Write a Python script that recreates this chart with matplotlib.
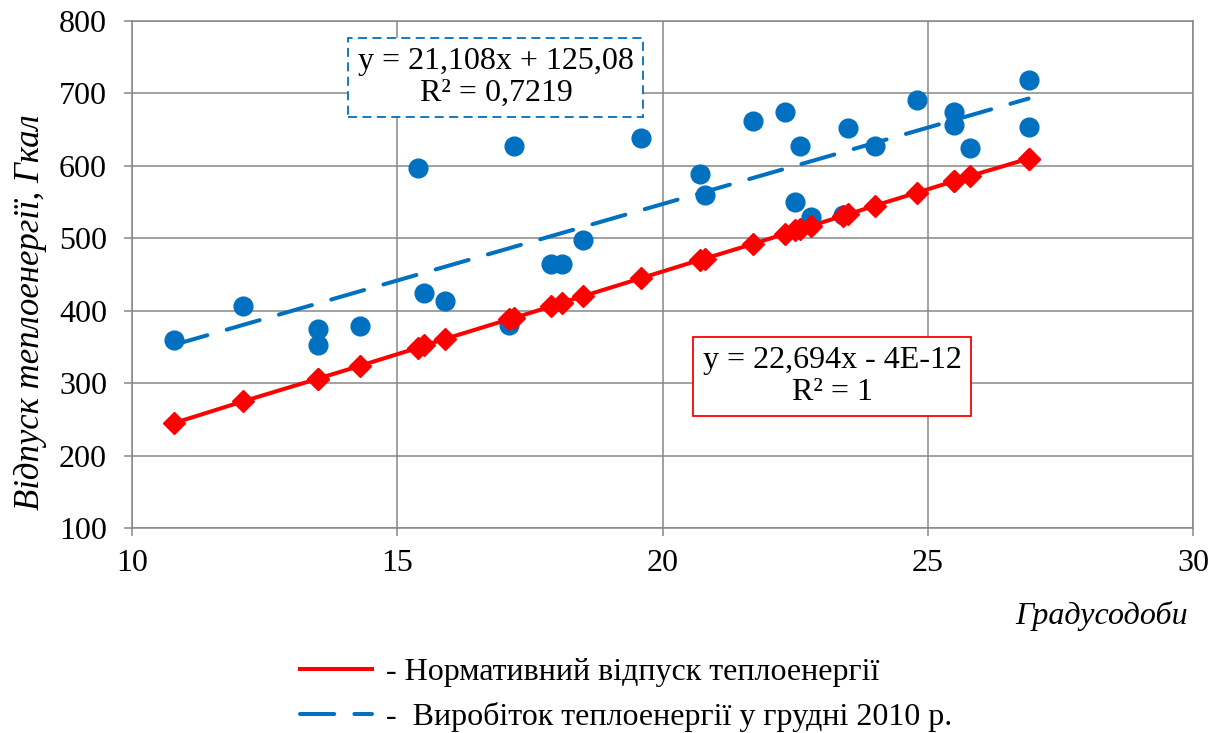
import matplotlib.pyplot as plt
from matplotlib.lines import Line2D
import numpy as np

plt.rcParams['font.family'] = 'Liberation Serif'

# Degree-days of each day and heat output in December 2010
degree_days = [10.8, 12.1, 13.5, 13.5, 14.3, 15.4, 15.5, 15.9, 17.1, 17.2,
               17.9, 18.1, 18.5, 19.6, 20.7, 20.8, 21.7, 22.3, 22.5, 22.6,
               22.8, 23.4, 23.5, 24.0, 24.8, 25.5, 25.5, 25.8, 26.9, 26.9]
actual_output = [360, 407, 375, 353, 379, 597, 425, 413, 380, 628,
                 465, 465, 498, 639, 589, 560, 662, 674, 550, 628,
                 529, 532, 652, 628, 691, 675, 657, 624, 718, 654]
normative_output = [245, 275, 306, 306, 324, 349, 352, 361, 388, 390,
                    406, 411, 420, 445, 470, 472, 492, 506, 511, 513,
                    517, 531, 533, 545, 563, 579, 579, 586, 610, 610]

# Linear trend of actual output
trend_slope = 21.108
trend_intercept = 125.08
trend_r2 = 0.7219
norm_slope = 22.694

x_ticks = [10, 15, 20, 25, 30]
y_ticks = [100, 200, 300, 400, 500, 600, 700, 800]

BLUE = '#0070C0'
RED = '#FF0000'
GRID = '#878787'
FS = 23

fig = plt.figure(figsize=(12.19, 7.33), dpi=100)
ax = fig.add_axes([0.1083, 0.2797, 0.8704, 0.6917])

# Scatter of actual output
ax.plot(degree_days, actual_output, 'o', color=BLUE, ms=13.5, mec=BLUE, zorder=3)

# Trend line
xt = np.array([min(degree_days), max(degree_days)])
ax.plot(xt, trend_slope * xt + trend_intercept, color=BLUE, lw=2.9,
        dashes=(8.5, 5.0), dash_capstyle='round', zorder=3)

# Normative output
ax.plot(degree_days, normative_output, '-D', color=RED, lw=2.9, ms=11,
        mec=RED, zorder=4)

ax.set_xlim(10, 30)
ax.set_ylim(100, 800)
ax.set_xticks(x_ticks)
ax.set_yticks(y_ticks)
ax.grid(color=GRID, lw=1.1)
ax.set_axisbelow(True)
for sp in ax.spines.values():
    sp.set_color(GRID)
    sp.set_linewidth(1.1)
ax.tick_params(direction='out', length=6, width=1.1, color=GRID,
               labelsize=FS, labelcolor='black')
ax.tick_params(axis='x', pad=9)
ax.tick_params(axis='y', pad=12)

# Equation labels
eq_blue = 'y = {}x + {}\nR² = {}'.format(
    str(trend_slope).replace('.', ','),
    str(trend_intercept).replace('.', ','),
    str(trend_r2).replace('.', ','))
ax.text(16.86, 722, eq_blue, ha='center', va='center', fontsize=FS,
        linespacing=1.1, zorder=5,
        bbox=dict(boxstyle='square,pad=0.3', fc='white', ec=BLUE, lw=1.3,
                  ls=(0, (5, 3))))
eq_red = 'y = {}x - 4E-12\nR² = 1'.format(str(norm_slope).replace('.', ','))
ax.text(23.2, 309, eq_red, ha='center', va='center', fontsize=FS,
        linespacing=1.1, zorder=5,
        bbox=dict(boxstyle='square,pad=0.3', fc='white', ec=RED, lw=1.3))

# Axis titles
fig.text(30 / 1219, 1 - 312 / 733, 'Відпуск теплоенергії, Гкал',
         rotation=90, ha='center', va='center', fontsize=25, style='italic')
fig.text(1188 / 1219, 1 - 616 / 733, 'Градусодоби', ha='right', va='center',
         fontsize=FS, style='italic')

# Legend
handles = [Line2D([], [], color=RED, lw=2.9),
           Line2D([], [], color=BLUE, lw=2.9, dashes=(8.5, 5.0),
                  dash_capstyle='round')]
labels = ['- Нормативний відпуск теплоенергії',
          '-  Виробіток теплоенергії у грудні 2010 р.']
fig.legend(handles, labels, loc='upper left',
           bbox_to_anchor=(300 / 1219, 1 - 658 / 733), frameon=False,
           fontsize=FS, handlelength=2.25, handletextpad=0.45,
           labelspacing=0.45, borderpad=0, borderaxespad=0)

fig.savefig('out.png', dpi=100)
